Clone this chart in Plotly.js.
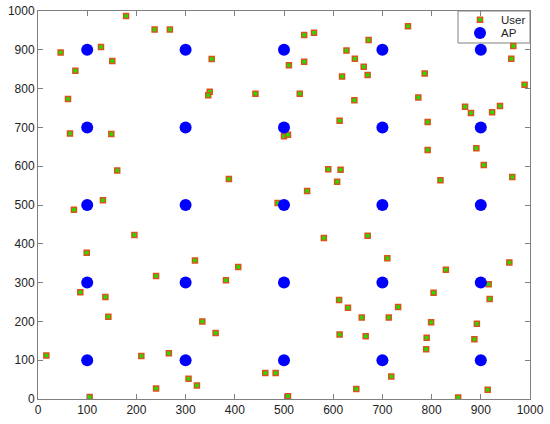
<!DOCTYPE html>
<html>
<head>
<meta charset="utf-8">
<script src="https://cdn.plot.ly/plotly-3.0.1.min.js"></script>
<style>html,body{margin:0;padding:0;background:#fff;}#chart{width:550px;height:424px;}</style>
</head>
<body>
<div id="chart"></div>
<script>
// User positions (x, y)
var userX = [179, 237, 268, 46, 128, 151, 76, 353, 510, 61, 349, 346, 442, 65, 149, 500, 508, 161, 388, 132, 73, 487,
  541, 561, 752, 672, 627, 541, 644, 662, 670, 618, 786, 966, 962, 989, 532, 643, 773, 868, 880, 923, 939, 613, 792,
  792, 891, 906, 590, 615, 608, 547, 818, 964,
  196, 99, 319, 407, 240, 382, 86, 137, 143, 334, 361, 17, 210, 266, 306, 323, 240, 105, 462, 483, 508,
  581, 670, 710, 958, 829, 916, 918, 804, 612, 630, 732, 658, 713, 799, 892, 613, 666, 790, 887, 789, 718, 647, 914, 854];
var userY = [987, 952, 952, 893, 907, 871, 846, 876, 860, 773, 792, 783, 787, 684, 683, 677, 681, 589, 567, 512, 488, 505,
  938, 944, 961, 925, 898, 869, 877, 856, 835, 831, 839, 910, 877, 810, 787, 770, 777, 753, 737, 739, 755, 717, 714,
  642, 646, 603, 592, 591, 560, 536, 564, 572,
  423, 377, 357, 340, 317, 306, 275, 263, 212, 200, 170, 112, 111, 118, 52, 35, 27, 5, 67, 67, 7,
  415, 421, 363, 352, 333, 296, 258, 274, 255, 235, 237, 210, 210, 198, 194, 166, 162, 158, 154, 128, 58, 26, 24, 4];
// Access point grid
var apX = [100, 100, 100, 100, 100, 300, 300, 300, 300, 300, 500, 500, 500, 500, 500, 700, 700, 700, 700, 700, 900, 900, 900, 900, 900];
var apY = [100, 300, 500, 700, 900, 100, 300, 500, 700, 900, 100, 300, 500, 700, 900, 100, 300, 500, 700, 900, 100, 300, 500, 700, 900];
var tickVals = [0, 100, 200, 300, 400, 500, 600, 700, 800, 900, 1000];
var seriesNames = ['User', 'AP'];

var font = 'Liberation Sans, Arial, Helvetica, sans-serif';
var userMarker = {symbol: 'square', size: 5, color: '#22dd00', line: {color: '#d9541a', width: 1.5}};
var apMarker = {symbol: 'circle', size: 12, color: '#0000ff', line: {width: 0}};

// compact legend box (paper coords)
var lg = {x0: 0.8537, x1: 1.0, y0: 0.9175, y1: 1.0, keyX: 0.8984, textX: 0.937, rowY: [0.9776, 0.9433]};

var traces = [
  {x: userX, y: userY, mode: 'markers', type: 'scatter', name: seriesNames[0], marker: userMarker, showlegend: false},
  {x: apX, y: apY, mode: 'markers', type: 'scatter', name: seriesNames[1], marker: apMarker, showlegend: false},
  {x: [lg.keyX], y: [lg.rowY[0]], xaxis: 'x2', yaxis: 'y2', mode: 'markers', type: 'scatter', marker: userMarker, showlegend: false, cliponaxis: false},
  {x: [lg.keyX], y: [lg.rowY[1]], xaxis: 'x2', yaxis: 'y2', mode: 'markers', type: 'scatter', marker: apMarker, showlegend: false, cliponaxis: false}
];
var axisCommon = {
  range: [0, 1000], tickvals: tickVals, showgrid: false, zeroline: false,
  showline: true, mirror: 'ticks', linecolor: '#808080', linewidth: 1,
  ticks: 'inside', ticklen: 5, tickcolor: '#808080',
  tickfont: {family: font, size: 12, color: '#222'}
};
var layout = {
  width: 550, height: 424,
  margin: {l: 38, r: 20, t: 11, b: 25},
  paper_bgcolor: '#fff', plot_bgcolor: '#fff',
  showlegend: false,
  xaxis: Object.assign({}, axisCommon),
  yaxis: Object.assign({}, axisCommon),
  xaxis2: {overlaying: 'x', range: [0, 1], visible: false, fixedrange: true},
  yaxis2: {overlaying: 'y', range: [0, 1], visible: false, fixedrange: true},
  shapes: [{type: 'rect', xref: 'paper', yref: 'paper', x0: lg.x0, x1: lg.x1, y0: lg.y0, y1: lg.y1,
    fillcolor: '#fff', line: {color: '#808080', width: 1}, layer: 'below'}],
  annotations: seriesNames.map(function (n, i) {
    return {xref: 'paper', yref: 'paper', x: lg.textX, y: lg.rowY[i], xanchor: 'left', yanchor: 'middle',
      text: n, showarrow: false, font: {family: font, size: 11.5, color: '#222'}};
  })
};
Plotly.newPlot('chart', traces, layout, {displayModeBar: false, staticPlot: true});
</script>
</body>
</html>
